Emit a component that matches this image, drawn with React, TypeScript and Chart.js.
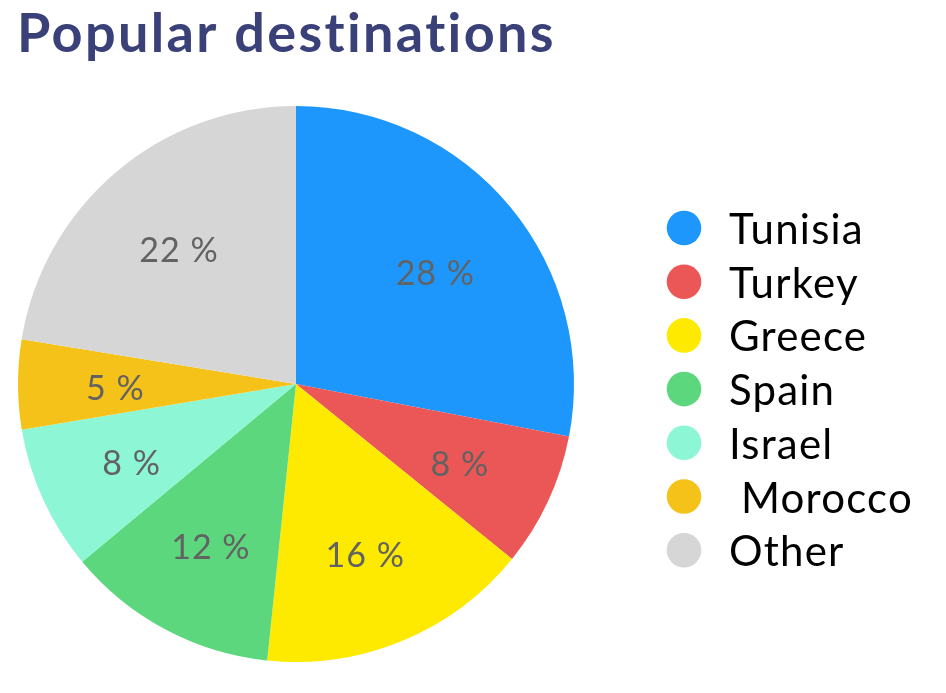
import React, { useEffect, useRef } from "react";
import { Chart, registerables } from "chart.js";

Chart.register(...registerables);

const titleText = "Popular destinations";
const categories = ["Tunisia", "Turkey", "Greece", "Spain", "Israel", " Morocco", "Other"];
const shares = [28.0, 7.8, 15.8, 12.3, 8.4, 5.2, 22.4];
const sliceColors = ["#1e97fd", "#eb5757", "#fdea00", "#5dd77d", "#8df7d5", "#f5c219", "#d6d6d6"];

const FONT = "Lato, 'Open Sans', sans-serif";

const titleDraw = {
  id: "titleDraw",
  afterDraw(chart: any) {
    const ctx = chart.ctx;
    ctx.save();
    ctx.font = `bold 54px ${FONT}`;
    (ctx as any).letterSpacing = "2.35px";
    ctx.fillStyle = "#3a4078";
    ctx.textAlign = "left";
    ctx.textBaseline = "alphabetic";
    ctx.fillText(titleText, 17, 52);
    ctx.restore();
  },
};

const sliceLabels = {
  id: "sliceLabels",
  afterDatasetsDraw(chart: any) {
    const ctx = chart.ctx;
    const meta = chart.getDatasetMeta(0);
    const values = chart.data.datasets[0].data as number[];
    ctx.save();
    ctx.font = `34px ${FONT}`;
    (ctx as any).letterSpacing = "1px";
    ctx.fillStyle = "#626262";
    ctx.textAlign = "center";
    ctx.textBaseline = "alphabetic";
    meta.data.forEach((arc: any, i: number) => {
      const p = arc.getProps(["x", "y", "startAngle", "endAngle", "outerRadius"], true);
      const a = (p.startAngle + p.endAngle) / 2;
      const r = p.outerRadius * 0.65;
      ctx.fillText(`${Math.round(values[i])} %`, p.x + Math.cos(a) * r, p.y + Math.sin(a) * r + 16);
    });
    ctx.restore();
  },
};

const sideLegend = {
  id: "sideLegend",
  afterDraw(chart: any) {
    const ctx = chart.ctx;
    const labels = chart.data.labels as string[];
    const colors = chart.data.datasets[0].backgroundColor as string[];
    const x0 = 684;
    const y0 = 228;
    const step = 53.7;
    ctx.save();
    ctx.font = `42px ${FONT}`;
    (ctx as any).letterSpacing = "1.2px";
    ctx.textAlign = "left";
    ctx.textBaseline = "alphabetic";
    labels.forEach((lab, i) => {
      const y = y0 + i * step;
      ctx.beginPath();
      ctx.arc(x0, y, 17.3, 0, Math.PI * 2);
      ctx.fillStyle = colors[i];
      ctx.fill();
      ctx.fillStyle = "#000000";
      ctx.fillText(lab, 729, y + 16);
    });
    ctx.restore();
  },
};

export default function App() {
  const ref = useRef<HTMLCanvasElement | null>(null);
  useEffect(() => {
    if (!ref.current) return;
    const chart = new Chart(ref.current, {
      type: "pie",
      data: {
        labels: categories,
        datasets: [
          {
            data: shares,
            backgroundColor: sliceColors,
            borderWidth: 0,
          },
        ],
      },
      options: {
        responsive: false,
        animation: false,
        layout: { padding: { left: 18, right: 372, top: 106, bottom: 31 } },
        plugins: {
          legend: { display: false },
          tooltip: { enabled: false },
          title: { display: false },
        },
      },
      plugins: [sliceLabels, sideLegend, titleDraw],
    });
    return () => chart.destroy();
  }, []);
  return (
    <div style={{ position: "absolute", left: 0, top: 0, width: 946, height: 693, background: "#ffffff" }}>
      <canvas ref={ref} width={946} height={693} />
    </div>
  );
}
